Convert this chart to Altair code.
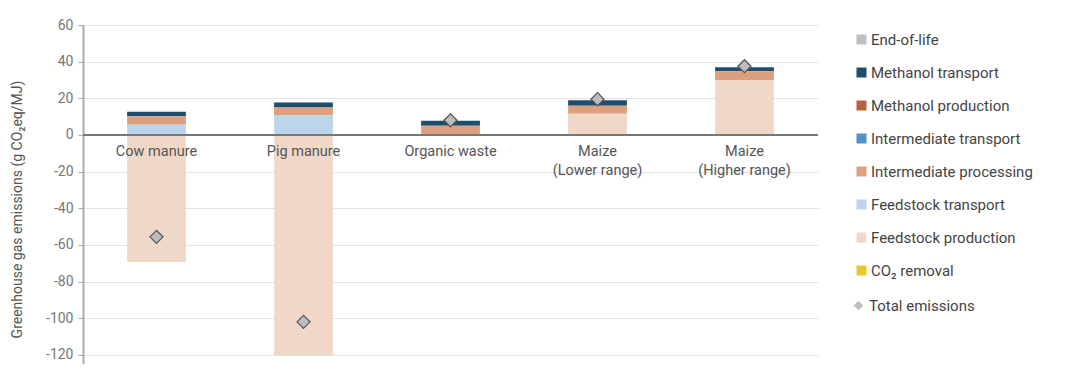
import altair as alt
import pandas as pd

# ---------------- data ----------------
categories = ["Cow manure", "Pig manure", "Organic waste", "Maize (Lower range)", "Maize (Higher range)"]
category_labels = ["Cow manure", "Pig manure", "Organic waste", "Maize\n(Lower range)", "Maize\n(Higher range)"]

components = [
    "End-of-life",
    "Methanol transport",
    "Methanol production",
    "Intermediate transport",
    "Intermediate processing",
    "Feedstock transport",
    "Feedstock production",
    "CO₂ removal",
]
total_name = "Total emissions"

component_colors = [
    "#bfbfbf",  # End-of-life
    "#1d4e6e",  # Methanol transport
    "#b8603a",  # Methanol production
    "#4e95c6",  # Intermediate transport
    "#dca07f",  # Intermediate processing
    "#bdd5ea",  # Feedstock transport
    "#f0d8c8",  # Feedstock production
    "#e9c82c",  # CO2 removal
]
total_fill = "#bdbdbd"
total_stroke = "#555555"

end_of_life = [0, 0, 0, 0, 0]
methanol_transport = [2.5, 2.7, 2.7, 2.9, 2.3]
methanol_production = [0, 0, 0, 0, 0]
intermediate_transport = [0, 0, 0, 0, 0]
intermediate_processing = [4.6, 4.2, 5.0, 4.4, 5.0]
feedstock_transport = [5.6, 10.8, 0, 0, 0]
feedstock_production = [-69.3, -120.5, 0, 11.6, 29.7]
co2_removal = [0, 0, 0, 0, 0]
total_emissions = [-55.6, -102.0, 8.0, 19.5, 37.5]

y_ticks = [60, 40, 20, 0, -20, -40, -60, -80, -100, -120]

# ---------------- tables ----------------
series = {
    "End-of-life": end_of_life,
    "Methanol transport": methanol_transport,
    "Methanol production": methanol_production,
    "Intermediate transport": intermediate_transport,
    "Intermediate processing": intermediate_processing,
    "Feedstock transport": feedstock_transport,
    "Feedstock production": feedstock_production,
    "CO₂ removal": co2_removal,
}
rows = []
for comp, vals in series.items():
    stack_idx = len(components) - components.index(comp)  # bottom of stack = last in legend
    for cat, v in zip(categories, vals):
        if v != 0:
            rows.append({"category": cat, "component": comp, "value": v, "order": -stack_idx})
bars_df = pd.DataFrame(rows)

totals_df = pd.DataFrame({"category": categories, "value": total_emissions,
                          "series": [total_name] * len(categories)})
labels_df = pd.DataFrame({"category": categories, "label": category_labels,
                          "zero": [0] * len(categories)})
zero_df = pd.DataFrame({"zero": [0]})

x_enc = alt.X("category:N", sort=categories, axis=None,
              scale=alt.Scale(paddingInner=0.6, paddingOuter=0.3))
y_scale = alt.Scale(domain=[-125, 60], nice=False, zero=False)

y_title = "Greenhouse gas emissions (g CO₂eq/MJ)"
y_axis = alt.Axis(values=y_ticks, title=y_title,
                  grid=True, gridColor="#e4e4e4", gridWidth=1,
                  domainColor="#aaaaaa", domainWidth=2,
                  tickColor="#aaaaaa", tickSize=5, tickWidth=1,
                  labelFontSize=14, labelColor="#777777", labelPadding=5,
                  labelExpr="replace(datum.label, '−', '-')",
                  titleFontSize=14, titleColor="#555555", titleFontWeight="normal",
                  titleX=-66, titleY=184, titleBaseline="middle")

bars = alt.Chart(bars_df).mark_bar().encode(
    x=x_enc,
    y=alt.Y("sum(value):Q", scale=y_scale, stack="zero", axis=y_axis, title=y_title),
    color=alt.Color("component:N",
                    scale=alt.Scale(domain=components, range=component_colors),
                    legend=alt.Legend(orient="right", offset=21, title=None,
                                      labelFontSize=15, labelColor="#444444",
                                      symbolSize=100, rowPadding=17, labelOffset=2,
                                      labelLimit=300, padding=7, symbolType="square")),
    order=alt.Order("order:Q", sort="descending"),
)

zero_rule = alt.Chart(zero_df).mark_rule(color="#777777", strokeWidth=2).encode(
    y=alt.Y("zero:Q", scale=y_scale, axis=y_axis, title=y_title)
)

labels = alt.Chart(labels_df).mark_text(
    lineBreak="\n", baseline="top", dy=10, fontSize=14.5, color="#555555",
    lineHeight=19, font="Roboto"
).encode(
    x=x_enc,
    y=alt.Y("zero:Q", scale=y_scale, axis=y_axis, title=y_title),
    text="label:N",
)

points = alt.Chart(totals_df).mark_point(
    filled=True, size=170, strokeWidth=1.2, opacity=1,
    fill=total_fill, stroke=total_stroke
).encode(
    x=x_enc,
    y=alt.Y("value:Q", scale=y_scale, axis=y_axis, title=y_title),
    shape=alt.Shape("series:N",
                    scale=alt.Scale(domain=[total_name], range=["diamond"]),
                    legend=alt.Legend(orient="right", offset=29, title=None,
                                      labelFontSize=15, labelColor="#444444",
                                      symbolSize=90, labelOffset=3, labelLimit=300,
                                      padding=4, symbolFillColor=total_fill,
                                      symbolStrokeColor=total_stroke,
                                      symbolStrokeWidth=1.2)),
)

chart = alt.layer(bars, zero_rule, labels, points).properties(
    width=735, height=339,
    padding={"left": 2, "top": 10, "right": 0, "bottom": 0},
).configure(font="Roboto").configure_view(stroke=None)

chart.save("out.html", embed_options={"renderer": "svg", "actions": False})
